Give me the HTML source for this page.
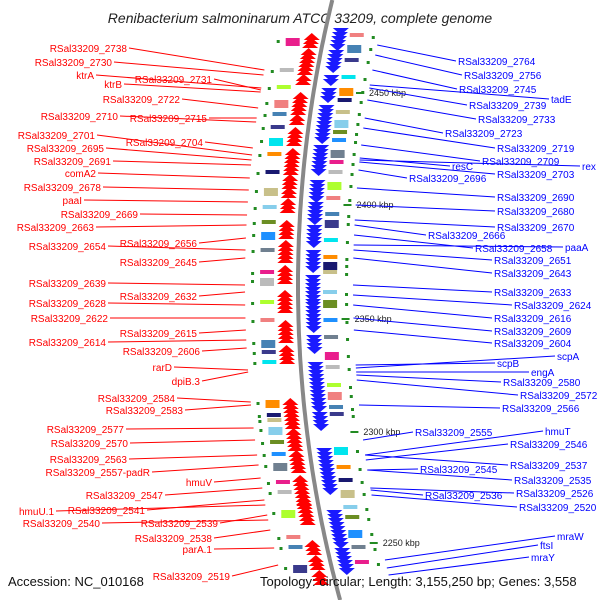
<!DOCTYPE html>
<html><head><meta charset="utf-8"><style>
html,body{margin:0;padding:0;background:#fff}
svg{display:block;font-family:"Liberation Sans",sans-serif}
</style></head><body>
<svg id="map" width="600" height="600" viewBox="0 0 600 600">
<text x="300" y="23" text-anchor="middle" font-size="14" font-style="italic" fill="#222">Renibacterium salmoninarum ATCC 33209, complete genome</text>
<g id="track"></g>
<g id="labels"></g>
<text x="8" y="586" font-size="13" fill="#111">Accession: NC_010168</text>
<text x="260" y="586" font-size="13" fill="#111">Topology: circular; Length: 3,155,250 bp; Genes: 3,558</text>
</svg>
<script>
const leftGenes=["RSal33209_2738","RSal33209_2730","ktrA","ktrB","RSal33209_2731","RSal33209_2722","RSal33209_2710","RSal33209_2715","RSal33209_2704","RSal33209_2701","RSal33209_2695","RSal33209_2691","comA2","RSal33209_2678","paaI","RSal33209_2669","RSal33209_2663","RSal33209_2656","RSal33209_2654","RSal33209_2645","RSal33209_2639","RSal33209_2632","RSal33209_2628","RSal33209_2622","RSal33209_2615","RSal33209_2614","RSal33209_2606","rarD","dpiB.3","RSal33209_2584","RSal33209_2583","RSal33209_2577","RSal33209_2570","RSal33209_2563","RSal33209_2557-padR","hmuV","RSal33209_2547","RSal33209_2541","hmuU.1","RSal33209_2540","RSal33209_2539","RSal33209_2538","parA.1","RSal33209_2519"];
const leftX=[127,112,94,122,212,180,118,207,203,95,104,111,96,101,82,138,94,197,106,197,106,197,106,108,197,106,200,172,200,175,183,124,128,127,150,212,163,145,54,100,218,212,212,230];
const leftY=[48,62,75,84,79,99,116,118,142,135,148,161,173,187,200,214,227,243,246,262,283,296,303,318,333,342,351,367,381,398,410,429,443,459,472,482,495,510,511,523,523,538,549,576];
const leftTargetY=[70,75,88,92,90,108,122,118,148,155,160,165,178,190,202,215,225,238,250,258,285,292,305,318,330,340,348,370,372,402,405,428,440,455,465,478,488,500,505,520,515,530,548,565];
const rightGenes=["RSal33209_2764","RSal33209_2756","RSal33209_2745","tadE","RSal33209_2739","RSal33209_2733","RSal33209_2723","RSal33209_2719","RSal33209_2709","rex","resC","RSal33209_2703","RSal33209_2696","RSal33209_2690","RSal33209_2680","RSal33209_2670","RSal33209_2666","RSal33209_2658","paaA","RSal33209_2651","RSal33209_2643","RSal33209_2633","RSal33209_2624","RSal33209_2616","RSal33209_2609","RSal33209_2604","scpB","scpA","engA","RSal33209_2580","RSal33209_2572","RSal33209_2566","RSal33209_2555","hmuT","RSal33209_2546","RSal33209_2537","RSal33209_2545","RSal33209_2535","RSal33209_2536","RSal33209_2526","RSal33209_2520","mraW","ftsI","mraY"];
const rightX=[458,464,459,551,469,478,445,497,482,582,452,497,409,497,497,497,428,475,565,494,494,494,514,494,494,494,497,557,531,503,520,502,415,545,510,510,420,514,425,516,519,557,540,531];
const rightY=[61,75,89,99,105,119,133,148,161,166,166,174,178,197,211,227,235,248,247,260,273,292,305,318,331,343,363,356,372,382,395,408,432,431,444,465,469,480,495,493,507,536,545,557];
const rightTargetY=[45,55,70,85,88,100,118,128,145,160,158,162,170,188,205,220,225,235,245,250,258,285,295,305,318,330,365,368,372,375,380,405,440,455,460,455,470,470,490,488,495,560,568,575];
const redGenes=[[33,45],[48,62],[64,72],[74,80],[92,99],[100,112],[114,120],[127,140],[148,170],[174,183],[187,195],[198,210],[220,235],[240,260],[265,280],[290,310],[320,340],[345,360],[398,408],[410,425],[428,445],[450,470],[475,500],[498,520],[540,552],[555,565],[570,580]];
const blueGenes=[[28,45],[50,70],[75,82],[88,100],[105,122],[125,140],[145,172],[180,200],[202,220],[225,245],[250,270],[275,300],[302,330],[335,350],[362,380],[382,410],[412,425],[448,458],[460,490],[510,545],[548,570]];
const kbpLabels=["2450 kbp","2400 kbp","2350 kbp","2300 kbp","2250 kbp"];
const kbpY=[96,208,322,435,546];
const boxColors=["#e91e8c","#bbb","#adff2f","#f08080","#4682b4","#3a3a8c","#00e5ee","#ff8c00","#191970","#c8c08a","#87ceeb","#6b8e23","#1e90ff","#708090"];
const boxYL=[38,68,85,100,112,125,138,152,170,188,205,220,232,248,270,278,300,318,340,350,360,400,413,418,427,440,452,463,480,490,510,535,545,565];
const boxYR=[33,45,58,75,88,98,110,120,130,138,150,160,170,182,196,212,220,238,255,262,270,290,300,318,335,352,365,383,392,405,412,447,465,478,490,505,515,530,545,560];

const NS="http://www.w3.org/2000/svg";
function bx(y){const cx=1498,cy=285,R=1200;return cx-Math.sqrt(R*R-(y-cy)*(y-cy));}
function mk(tag,attrs,parent){const e=document.createElementNS(NS,tag);for(const k in attrs)e.setAttribute(k,attrs[k]);parent.appendChild(e);return e;}
const track=document.getElementById('track'), labels=document.getElementById('labels');
let d="";for(let y=0;y<=600;y+=5){d+=(y?"L":"M")+bx(y).toFixed(1)+","+y;}
const bb=mk('path',{d:d,stroke:"#888",'stroke-width':4,fill:"none"},track);


redGenes.forEach((g,i)=>{for(let y=g[0];y<g[1];y+=4){const x=bx(y)-13;const p=mk('polygon',{points:`${x-8},${y+7} ${x},${y} ${x+8},${y+7}`,fill:"#f00"},track);

}});
blueGenes.forEach((g,i)=>{for(let y=g[0];y<g[1];y+=4){const x=bx(y)+15;const p=mk('polygon',{points:`${x-8},${y} ${x},${y+7} ${x+8},${y}`,fill:"#1a1aff"},track);

}});
boxYL.forEach((y,i)=>{const x=bx(y)-38;const r=mk('rect',{x:x,y:y,width:14,height:(i%3==0?8:4),fill:boxColors[i%boxColors.length]},track);


const dot=mk('rect',{x:x-9,y:y+2,width:3,height:3,fill:"#228b22"},track);

});
boxYR.forEach((y,i)=>{const x=bx(y)+25;const r=mk('rect',{x:x,y:y,width:14,height:(i%3==1?8:4),fill:boxColors[(i+3)%boxColors.length]},track);


const dot=mk('rect',{x:x+22,y:y+3,width:3,height:3,fill:"#228b22"},track);

});
kbpLabels.forEach((t,i)=>{const y=kbpY[i];const x=bx(y)+43;const l=mk('line',{x1:x,y1:y-3,x2:x+8,y2:y-3,stroke:"#228b22",'stroke-width':2},track);


const tx=mk('text',{x:x+13,y:y,'font-size':9,fill:"#222"},track);tx.textContent=t;

});
leftGenes.forEach((t,i)=>{const tx=mk('text',{x:leftX[i],y:leftY[i]+4,'text-anchor':'end','font-size':10,fill:"#f00"},labels);tx.textContent=t;


const ty=leftTargetY[i];const l=mk('line',{x1:leftX[i]+2,y1:leftY[i],x2:bx(ty)-53,y2:ty,stroke:"#f00",'stroke-width':1},labels);

});
rightGenes.forEach((t,i)=>{const tx=mk('text',{x:rightX[i],y:rightY[i]+4,'font-size':10,fill:"#00f"},labels);tx.textContent=t;


const ty=rightTargetY[i];const l=mk('line',{x1:bx(ty)+55,y1:ty,x2:rightX[i]-2,y2:rightY[i],stroke:"#00f",'stroke-width':1},labels);

});
</script>
</body></html>
